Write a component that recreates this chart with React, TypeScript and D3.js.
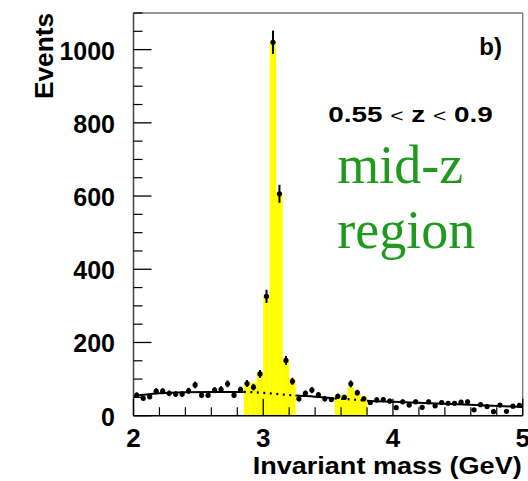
import React from "react";
import * as d3 from "d3";

// ---- data ----
const massMin = 2;
const massMax = 5;
const binWidth = 0.05;
const counts = [
  56, 48, 52, 67, 67, 61, 59, 59, 68, 84,
  56, 56, 70, 72, 87, 56, 71, 88, 78, 114,
  326, 1020, 606, 151, 94, 46, 61, 70, 57, 46,
  44, 53, 50, 87, 63, 46, 36, 43, 44, 40,
  22, 38, 29, 38, 23, 38, 27, 36, 34, 34,
  37, 38, 16, 30, 25, 11, 29, 12, 26, 28,
];
// yellow filled signal-window histograms: [first bin index, heights]
const jpsiStartBin = 17;
const jpsiFill = [92, 90, 120, 330, 1022, 607, 154, 99];
const psi2StartBin = 31;
const psi2Fill = [57, 57, 78, 63, 52];
// background fit
const fitMass = [2.0, 2.1, 2.2, 2.4, 2.6, 2.85, 3.05, 3.25, 3.4, 3.55, 3.7, 3.8, 4.0, 4.5, 5.0];
const fitValue = [54, 58, 61, 64, 65, 65, 61, 55, 52, 47, 44, 41, 38, 31, 24];
const signalWindows = [
  [2.85, 3.25],
  [3.55, 3.8],
];
const yMajorTicks = [0, 200, 400, 600, 800, 1000];
const xMajorTicks = [2, 3, 4, 5];

export default function App() {
  const W = 528;
  const H = 481;
  const L = 133.5, R = 522.7, T = 13, B = 415.7;
  const x = d3.scaleLinear().domain([massMin, massMax]).range([L, R]);
  const y = d3.scaleLinear().domain([0, 1100]).range([B, T]);

  const yMinor = d3.range(0, 1101, 50).filter((v) => v % 200 !== 0);
  const xMinor = d3.range(0, 16).map((i) => massMin + i * 0.2).filter((v) => Math.abs(v - Math.round(v)) > 1e-6);

  const bars: { lo: number; hi: number; v: number }[] = [];
  jpsiFill.forEach((v, k) => {
    const lo = massMin + (jpsiStartBin + k) * binWidth;
    bars.push({ lo, hi: lo + binWidth, v });
  });
  psi2Fill.forEach((v, k) => {
    const lo = massMin + (psi2StartBin + k) * binWidth;
    bars.push({ lo, hi: lo + binWidth, v });
  });

  const fitPts: [number, number][] = fitMass.map((m, i) => [m, fitValue[i]]);
  const line = d3
    .line<[number, number]>()
    .x((d) => x(d[0]))
    .y((d) => y(d[1]))
    .curve(d3.curveMonotoneX);
  const fitPath = line(fitPts) || "";

  const solidRanges: number[][] = [];
  let prev = massMin;
  signalWindows.forEach(([a, b]) => {
    solidRanges.push([prev, a]);
    prev = b;
  });
  solidRanges.push([prev, massMax]);

  const font = "'Liberation Sans', Arial, Helvetica, sans-serif";

  return (
    <svg width={W} height={H} style={{ position: "absolute", left: 0, top: 0, background: "#fff" }}>
      <defs>
        <clipPath id="solidClip">
          {solidRanges.map(([a, b], i) => (
            <rect key={i} x={x(a)} y={0} width={x(b) - x(a)} height={H} />
          ))}
        </clipPath>
        <clipPath id="dotClip">
          {signalWindows.map(([a, b], i) => (
            <rect key={i} x={x(a)} y={0} width={x(b) - x(a)} height={H} />
          ))}
        </clipPath>
      </defs>

      {/* yellow signal histograms */}
      {bars.map((b, i) => (
        <rect key={i} x={x(b.lo)} y={y(b.v)} width={x(b.hi) - x(b.lo)} height={B - y(b.v)} fill="#ffff00" />
      ))}

      {/* background fit */}
      <path d={fitPath} fill="none" stroke="#000" strokeWidth={2} clipPath="url(#solidClip)" />
      <path d={fitPath} fill="none" stroke="#000" strokeWidth={2.2} strokeDasharray="2,4.5" clipPath="url(#dotClip)" />

      {/* data points with sqrt(N) error bars */}
      {counts.map((c, i) => {
        const cx = x(massMin + (i + 0.5) * binWidth);
        const e = Math.sqrt(c);
        return (
          <g key={i}>
            <line x1={cx} x2={cx} y1={y(c + e)} y2={y(c - e)} stroke="#000" strokeWidth={2} />
            <circle cx={cx} cy={y(c)} r={2.6} fill="#000" />
          </g>
        );
      })}

      {/* frame */}
      <line x1={L} x2={R} y1={T} y2={T} stroke="#777" strokeWidth={1.3} />
      <line x1={R} x2={R} y1={T} y2={B} stroke="#777" strokeWidth={1.3} />
      <line x1={L} x2={L} y1={T} y2={B} stroke="#444" strokeWidth={1.5} />
      <line x1={L} x2={R} y1={B} y2={B} stroke="#000" strokeWidth={1.5} />

      {/* y ticks */}
      {yMajorTicks.map((v) => (
        <g key={"ym" + v}>
          <line x1={L} x2={L + 18} y1={y(v)} y2={y(v)} stroke="#000" strokeWidth={1.3} />
          <text x={115} y={y(v) + 10} textAnchor="end" fontFamily={font} fontWeight="bold" fontSize={25}>
            {v}
          </text>
        </g>
      ))}
      {yMinor.map((v) => (
        <line key={"yn" + v} x1={L} x2={L + 9} y1={y(v)} y2={y(v)} stroke="#000" strokeWidth={1.2} />
      ))}

      {/* x ticks */}
      {xMajorTicks.map((v) => (
        <g key={"xm" + v}>
          <line x1={x(v)} x2={x(v)} y1={B} y2={B - 17} stroke="#000" strokeWidth={1.3} />
          <text x={x(v)} y={447} textAnchor="middle" fontFamily={font} fontWeight="bold" fontSize={26}>
            {v}
          </text>
        </g>
      ))}
      {xMinor.map((v) => (
        <line key={"xn" + v} x1={x(v)} x2={x(v)} y1={B} y2={B - 8.5} stroke="#000" strokeWidth={1.2} />
      ))}

      {/* axis titles */}
      <text x={521.7} y={474} textAnchor="end" fontFamily={font} fontWeight="bold" fontSize={24} textLength={269} lengthAdjust="spacingAndGlyphs">
        Invariant mass (GeV)
      </text>
      <text transform="translate(53,13) rotate(-90)" textAnchor="end" fontFamily={font} fontWeight="bold" fontSize={25} textLength={86} lengthAdjust="spacingAndGlyphs">
        Events
      </text>

      {/* annotations */}
      <text x={502} y={55} textAnchor="end" fontFamily={font} fontWeight="bold" fontSize={24}>
        b)
      </text>
      <text x={328.3} y={121.7} fontFamily={font} fontSize={22} textLength={164.4} lengthAdjust="spacingAndGlyphs">
        <tspan fontWeight="bold">0.55 </tspan>
        <tspan fontSize={18}>&lt;</tspan>
        <tspan fontWeight="bold"> z </tspan>
        <tspan fontSize={18}>&lt;</tspan>
        <tspan fontWeight="bold"> 0.9</tspan>
      </text>
      <text x={337.3} y={182.7} fontFamily="'Liberation Serif', 'Times New Roman', serif" fontSize={54} fill="#1f9a1f">
        mid-z
      </text>
      <text x={337.3} y={248.3} fontFamily="'Liberation Serif', 'Times New Roman', serif" fontSize={54} fill="#1f9a1f">
        region
      </text>
    </svg>
  );
}
